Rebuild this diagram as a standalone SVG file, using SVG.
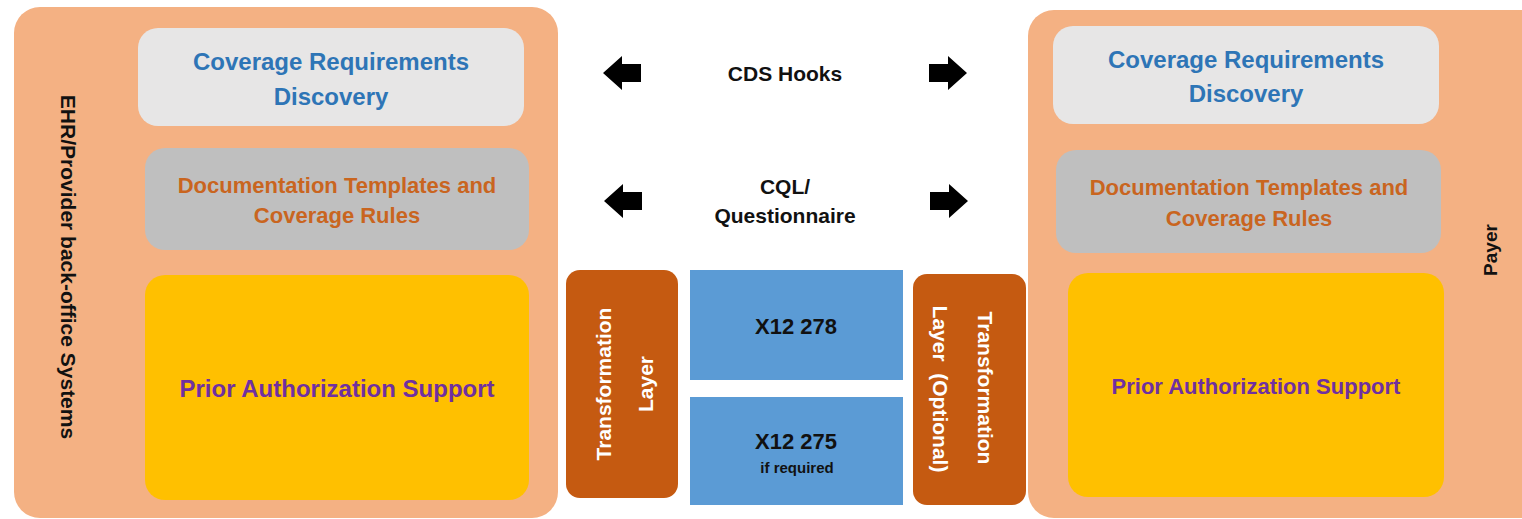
<svg xmlns="http://www.w3.org/2000/svg" width="1522" height="519" viewBox="0 0 1522 519">
<style>
text{font-family:"Liberation Sans",Arial,sans-serif;font-weight:bold;text-anchor:middle;dominant-baseline:central}
.outer{fill:#F4B183}
.crd{fill:#E7E6E6}
.doc{fill:#BFBFBF}
.pas{fill:#FFC000}
.tl{fill:#C55A11}
.x12{fill:#5B9BD5}
.tcrd{fill:#2E75B6;font-size:24px}
.tdoc{fill:#C9651F;font-size:22px}
.tpas{fill:#7030A0}
.tblk{fill:#111}
.twht{fill:#fff;font-size:21px}
.arr{fill:#000}
</style>
<rect width="1522" height="519" fill="#fff"/>
<g id="ehr">
<rect class="outer" x="14" y="7" width="544" height="511" rx="26"/>
<text class="tblk" font-size="21" transform="translate(68,267) rotate(90)">EHR/Provider back-office Systems</text>
</g>
<g id="ehr-crd">
<rect class="crd" x="138" y="28" width="386" height="98" rx="20"/>
<text class="tcrd" x="331" y="61">Coverage Requirements</text>
<text class="tcrd" x="331" y="96">Discovery</text>
</g>
<g id="ehr-doc">
<rect class="doc" x="145" y="148" width="384" height="102" rx="20"/>
<text class="tdoc" x="337" y="185">Documentation Templates and</text>
<text class="tdoc" x="337" y="215">Coverage Rules</text>
</g>
<g id="ehr-pas">
<rect class="pas" x="145" y="275" width="384" height="225" rx="20"/>
<text class="tpas" font-size="24" x="337" y="388">Prior Authorization Support</text>
</g>
<g id="payer">
<rect class="outer" x="1028" y="10" width="520" height="508" rx="26"/>
<text class="tblk" font-size="19" transform="translate(1490,250) rotate(-90)">Payer</text>
</g>
<g id="payer-crd">
<rect class="crd" x="1053" y="26" width="386" height="98" rx="20"/>
<text class="tcrd" x="1246" y="59">Coverage Requirements</text>
<text class="tcrd" x="1246" y="93">Discovery</text>
</g>
<g id="payer-doc">
<rect class="doc" x="1056" y="150" width="385" height="103" rx="20"/>
<text class="tdoc" x="1249" y="187">Documentation Templates and</text>
<text class="tdoc" x="1249" y="218">Coverage Rules</text>
</g>
<g id="payer-pas">
<rect class="pas" x="1068" y="273" width="376" height="224" rx="20"/>
<text class="tpas" font-size="22" x="1256" y="386">Prior Authorization Support</text>
</g>
<g id="tl-left">
<rect class="tl" x="566" y="270" width="112" height="228" rx="14"/>
<text class="twht" transform="translate(603,384) rotate(-90)">Transformation</text>
<text class="twht" transform="translate(645,384) rotate(-90)">Layer</text>
</g>
<g id="x12-278">
<rect class="x12" x="690" y="270" width="213" height="110"/>
<text class="tblk" font-size="22" x="796" y="326">X12 278</text>
</g>
<g id="x12-275">
<rect class="x12" x="690" y="397" width="213" height="108"/>
<text class="tblk" font-size="22" x="796" y="441">X12 275</text>
<text class="tblk" font-size="15" x="797" y="467">if required</text>
</g>
<g id="tl-right">
<rect class="tl" x="913" y="274" width="113" height="231" rx="14"/>
<text class="twht" transform="translate(985,388) rotate(90)">Transformation</text>
<text class="twht" transform="translate(940,389) rotate(90)" xml:space="preserve">Layer  (Optional)</text>
</g>
<g id="connectors">
<polygon class="arr" points="603,73 622,56 622,64 641,64 641,82 622,82 622,90"/>
<polygon class="arr" points="967,73 948,56 948,64 929,64 929,82 948,82 948,90"/>
<polygon class="arr" points="604,201 623,184 623,192 642,192 642,210 623,210 623,218"/>
<polygon class="arr" points="968,201 949,184 949,192 930,192 930,210 949,210 949,218"/>
<text class="tblk" font-size="21" x="785" y="73">CDS Hooks</text>
<text class="tblk" font-size="21" x="785" y="186">CQL/</text>
<text class="tblk" font-size="21" x="785" y="215">Questionnaire</text>
</g>
</svg>
